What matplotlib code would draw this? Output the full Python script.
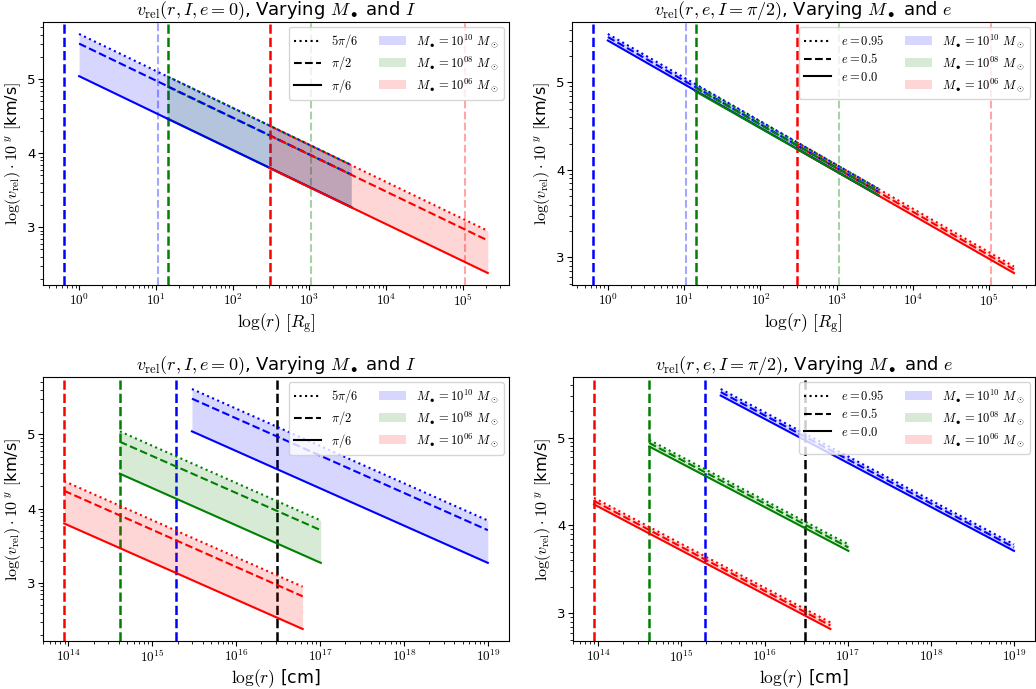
import numpy as np
import matplotlib
matplotlib.use("Agg")
import matplotlib.pyplot as plt
from matplotlib.ticker import FuncFormatter, LogLocator, NullFormatter
from matplotlib.lines import Line2D
from matplotlib.patches import Patch

plt.rcParams['mathtext.fontset'] = 'cm'
plt.rcParams['font.family'] = ['DejaVu Sans']

# ---------------- data ----------------
mass_exp = ["10", "08", "06"]
colors = ["blue", "green", "red"]

# radial extents of each mass curve
r_start_rg = [1.0, 14.0, 300.0]
r_end_rg = [3.5e3, 3.5e3, 2.1e5]
r_start_cm = [2.97e15, 4.1e14, 8.9e13]
r_end_cm = [1.0e19, 1.02e17, 6.2e16]

# log10(v_rel) at start / end, for inclinations 5pi/6, pi/2, pi/6
incl_labels = [r"$5\pi/6$", r"$\pi/2$", r"$\pi/6$"]
logv_I_start = [[5.61, 5.48, 5.04], [5.04, 4.90, 4.47], [4.37, 4.24, 3.80]]
logv_I_end = [[3.84, 3.71, 3.27], [3.84, 3.71, 3.27], [2.95, 2.82, 2.38]]

# log10(v_rel) at start / end, for eccentricities 0.95, 0.5, 0.0
ecc_labels = [r"$e = 0.95$", r"$e = 0.5$", r"$e = 0.0$"]
logv_e_start = [[5.555, 5.52, 5.48], [4.975, 4.94, 4.90], [4.315, 4.28, 4.24]]
logv_e_end = [[3.785, 3.75, 3.71], [3.785, 3.75, 3.71], [2.895, 2.86, 2.82]]

linestyles = [":", "--", "-"]

# characteristic radii (vertical markers)
vline_strong_rg = [0.64, 14.2, 305.0]
vline_light_rg = [10.6, 1.06e3, 1.06e5]
vline_strong_cm = [1.9e15, 4.1e14, 8.9e13]
vline_black_cm = 3.09e16

# ---------------- figure ----------------
W, H = 1036, 689
fig = plt.figure(figsize=(W / 100, H / 100), dpi=100)


def rect(x0, x1, y0, y1):
    return [x0 / W, 1 - y1 / H, (x1 - x0) / W, (y1 - y0) / H]


ax_tl = fig.add_axes(rect(43, 509, 22, 285))
ax_tr = fig.add_axes(rect(572, 1035, 22, 285))
ax_bl = fig.add_axes(rect(43, 509, 377, 641))
ax_br = fig.add_axes(rect(573, 1035, 377, 641))


def draw(ax, rs, re, ls_start, ls_end, order, vstrong, vlight=None, vblack=None):
    for i in order:
        x = [rs[i], re[i]]
        ys = []
        for k in range(3):
            y = [10 ** ls_start[i][k], 10 ** ls_end[i][k]]
            ys.append(y)
            ax.plot(x, y, color=colors[i], ls=linestyles[k], lw=1.5, zorder=3 + order.index(i))
        ax.fill_between(x, ys[0], ys[2], color=colors[i], alpha=0.16, lw=0, zorder=2)
    for i in range(3):
        ax.axvline(vstrong[i], color=colors[i], ls="--", lw=1.8, zorder=1)
        if vlight is not None:
            ax.axvline(vlight[i], color=colors[i], ls="--", lw=1.5, alpha=0.35, zorder=1)
    if vblack is not None:
        ax.axvline(vblack, color="black", ls="--", lw=1.8, zorder=1)


draw(ax_tl, r_start_rg, r_end_rg, logv_I_start, logv_I_end, [1, 0, 2], vline_strong_rg, vline_light_rg)
draw(ax_tr, r_start_rg, r_end_rg, logv_e_start, logv_e_end, [2, 0, 1], vline_strong_rg, vline_light_rg)
draw(ax_bl, r_start_cm, r_end_cm, logv_I_start, logv_I_end, [2, 1, 0], vline_strong_cm, None, vline_black_cm)
draw(ax_br, r_start_cm, r_end_cm, logv_e_start, logv_e_end, [2, 1, 0], vline_strong_cm, None, vline_black_cm)

title_I = r"$v_{\rm rel}(r, I, e=0)$, Varying $M_\bullet$ and $I$"
title_e = r"$v_{\rm rel}(r, e, I=\pi/2)$, Varying $M_\bullet$ and $e$"

xfmt = FuncFormatter(lambda v, p: r"$10^{%d}$" % int(round(np.log10(v))) if v > 0 else "")
yfmt = FuncFormatter(lambda v, p: "%d" % int(round(np.log10(v))) if v > 0 else "")

for ax, title, xl, lab in [(ax_tl, title_I, r"$\log(r)\ [R_{\rm g}]$", incl_labels),
                           (ax_tr, title_e, r"$\log(r)\ [R_{\rm g}]$", ecc_labels),
                           (ax_bl, title_I, r"$\log(r)$ [cm]", incl_labels),
                           (ax_br, title_e, r"$\log(r)$ [cm]", ecc_labels)]:
    ax.set_xscale("log")
    ax.set_yscale("log")
    ax.set_title(title, fontsize=13, pad=4)
    ax.set_xlabel(xl, fontsize=12.5, labelpad=2)
    ax.set_ylabel(r"$\log(v_{\rm rel})\cdot 10^{\ y}$ $[$km/s$]$", fontsize=11.5, labelpad=3)
    ax.xaxis.set_major_locator(LogLocator(base=10, numticks=20))
    ax.xaxis.set_major_formatter(xfmt)
    ax.xaxis.set_minor_locator(LogLocator(base=10, subs=np.arange(2, 10), numticks=50))
    ax.xaxis.set_minor_formatter(NullFormatter())
    ax.yaxis.set_major_formatter(yfmt)
    ax.yaxis.set_minor_formatter(NullFormatter())
    ax.tick_params(axis="x", labelsize=9.5, pad=2)
    ax.tick_params(axis="y", labelsize=9.5, pad=2)
    handles = []
    for k in range(3):
        handles.append(Line2D([0], [0], color="black", ls=linestyles[k], lw=1.5, label=lab[k]))
    for i in range(3):
        handles.append(Patch(facecolor=colors[i], alpha=0.16, lw=0,
                             label=r"$M_\bullet = 10^{%s}\ M_\odot$" % mass_exp[i]))
    leg = ax.legend(handles=handles, ncol=2, loc="upper right", fontsize=9,
                    handlelength=2.2, columnspacing=1.6, handletextpad=0.8,
                    labelspacing=0.35, framealpha=0.8, borderaxespad=0.4)
    leg.set_zorder(10)

fig.savefig("out.png", dpi=100)
